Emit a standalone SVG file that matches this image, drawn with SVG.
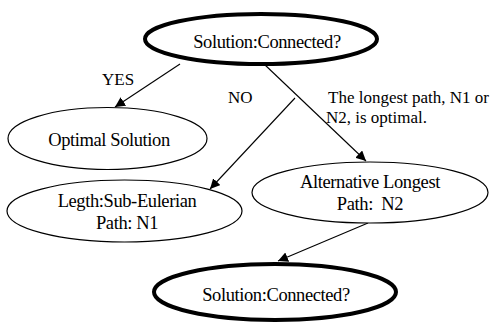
<svg xmlns="http://www.w3.org/2000/svg" width="499" height="329" viewBox="0 0 499 329">
<style>
.t{font-family:'Liberation Serif','Times New Roman',serif;font-size:18.5px;letter-spacing:-0.4px;fill:#000}
.l{font-family:'Liberation Serif','Times New Roman',serif;font-size:17px;fill:#000}
.c{text-anchor:middle}
.n{fill:#fff;stroke:#000;stroke-width:1.2}
.b{fill:#fff;stroke:#000;stroke-width:4}
.e{fill:none;stroke:#000;stroke-width:1.1}
</style>
<defs>
<marker id="ah" viewBox="0 0 10 10" refX="10" refY="5" markerWidth="10" markerHeight="10" markerUnits="userSpaceOnUse" orient="auto">
<path d="M0,0 L10,5 L0,10 z" fill="#000"/>
</marker>
</defs>
<g id="connectors">
<line class="e" x1="180" y1="64" x2="115" y2="107" marker-end="url(#ah)"/>
<line class="e" x1="264" y1="64" x2="366" y2="161" marker-end="url(#ah)"/>
<line class="e" x1="295" y1="98" x2="210" y2="189" marker-end="url(#ah)"/>
<line class="e" x1="368" y1="223" x2="278" y2="261" marker-end="url(#ah)"/>
<text class="l" x="102" y="85">YES</text>
<text class="l" x="228" y="103">NO</text>
<text class="l" x="328" y="103">The longest path, N1 or</text>
<text class="l" x="326" y="123">N2, is optimal.</text>
</g>
<g id="top">
<ellipse class="b" cx="261" cy="39" rx="116" ry="25"/>
<text class="t c" x="267" y="47.5">Solution:Connected?</text>
</g>
<g id="optimal">
<ellipse class="n" cx="107.5" cy="138.5" rx="99.5" ry="31"/>
<text class="t c" x="109" y="146">Optimal Solution</text>
</g>
<g id="legth">
<ellipse class="n" cx="124.5" cy="211" rx="117.5" ry="31"/>
<text class="t c" x="127" y="207">Legth:Sub-Eulerian</text>
<text class="t c" x="127" y="229">Path: N1</text>
</g>
<g id="alternative">
<ellipse class="n" cx="370" cy="192.5" rx="118" ry="30.5"/>
<text class="t c" x="370" y="188">Alternative Longest</text>
<text class="t c" x="370" y="210" xml:space="preserve">Path:  N2</text>
</g>
<g id="bottom">
<ellipse class="b" cx="275" cy="292" rx="121" ry="28"/>
<text class="t c" x="276" y="301">Solution:Connected?</text>
</g>
</svg>
